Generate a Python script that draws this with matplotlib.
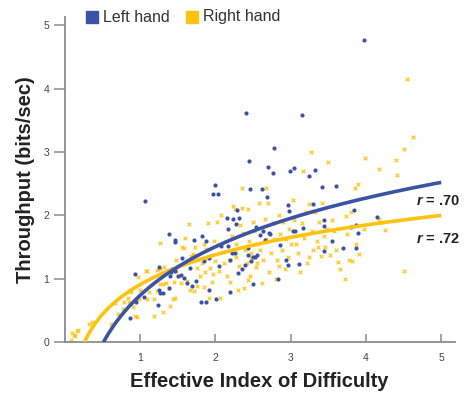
import numpy as np
import matplotlib
matplotlib.use('Agg')
from matplotlib import pyplot as plt

plt.rcParams['font.family'] = ['Liberation Sans', 'DejaVu Sans']
plt.rcParams['mathtext.fontset'] = 'custom'
plt.rcParams['mathtext.it'] = 'Liberation Sans:italic:bold'

BLUE = '#3a53a4'
YELLOW = '#fec20f'

# left hand (blue dots)
left_x = [3.98, 2.41, 3.15, 2.78, 2.45, 2.70, 2.76, 2.99, 3.05, 3.25, 3.33, 3.42, 3.60, 1.99, 1.97,
          2.03, 2.46, 2.62, 2.69, 1.07, 4.15, 3.84, 3.44, 3.80, 3.87, 3.90, 3.55, 3.70, 3.45, 3.87,
          2.96, 2.98, 3.30, 3.03, 3.06, 3.17, 2.86, 2.94, 2.97, 3.11, 2.83, 2.66, 2.60, 2.54, 2.63,
          2.43, 2.44, 2.50, 2.55, 2.48, 2.39, 2.36, 2.50, 2.30, 2.15, 2.17, 2.24, 2.28, 2.31, 2.29,
          2.17, 2.22, 2.26, 2.19, 2.08, 2.05, 2.20, 2.01, 1.88, 1.81, 1.92, 1.92, 1.85, 1.88, 1.82,
          1.72, 1.66, 1.74, 1.69, 1.63, 1.56, 1.55, 1.58, 1.50, 1.46, 1.47, 1.38, 1.41, 1.43, 1.46,
          1.40, 1.39, 1.30, 1.25, 1.24, 1.25, 0.94, 1.05, 0.95, 0.87, 3.45, 2.71, 2.73, 2.53, 1.27]
left_y = [4.77, 3.61, 3.59, 3.06, 2.86, 2.77, 2.67, 2.70, 2.74, 2.62, 2.71, 2.45, 2.47, 2.48, 2.33,
          2.34, 2.41, 2.41, 2.29, 2.22, 1.98, 2.08, 1.93, 1.82, 1.85, 1.72, 1.59, 1.49, 1.44, 1.48,
          2.16, 2.07, 2.18, 1.76, 1.75, 1.80, 1.53, 1.29, 1.21, 1.24, 1.00, 1.61, 1.69, 1.82, 1.76,
          1.49, 1.38, 1.35, 1.37, 1.28, 1.21, 1.15, 0.92, 1.09, 1.96, 1.79, 1.95, 1.87, 1.96, 2.09,
          1.52, 1.40, 1.40, 1.29, 1.51, 1.20, 0.79, 0.68, 0.64, 0.64, 0.83, 1.33, 1.28, 1.60, 1.68,
          1.61, 1.17, 0.97, 0.88, 0.93, 1.33, 1.06, 1.02, 1.05, 1.61, 1.58, 1.71, 1.11, 1.15, 1.12,
          1.05, 0.86, 0.77, 1.18, 0.59, 0.83, 1.08, 0.72, 0.64, 0.38, 1.84, 1.73, 1.70, 1.35, 0.78]

# right hand (yellow crosses)
right_x = [0.08, 0.10, 0.12, 0.14, 0.16, 0.18, 0.32, 0.36,
           0.61, 0.67, 0.71, 0.77, 0.79, 0.84, 0.86, 0.88, 0.91, 0.94, 0.96, 0.97, 0.99, 1.00,
           1.08, 1.09, 1.10, 1.12, 1.19, 1.22, 1.19, 1.30, 1.27, 1.27, 1.30, 1.35, 1.38, 1.40, 1.44,
           1.47, 1.22, 1.26, 1.32, 1.36, 1.42, 1.48, 1.45, 1.48,
           1.50, 1.55, 1.58, 1.56, 1.60, 1.62, 1.65, 1.66, 1.68, 1.70, 1.72, 1.73, 1.74, 1.76, 1.76,
           1.80, 1.83, 1.85, 1.87, 1.88, 1.90, 1.91, 1.93, 1.95, 1.97, 1.98, 1.92, 1.99, 1.85, 1.60,
           2.02, 2.05, 2.06, 2.10, 2.12, 2.15, 2.18, 2.20, 2.22, 2.24, 2.26, 2.28, 2.30, 2.32, 2.33,
           2.35, 2.37, 2.38, 2.40, 2.42, 2.44, 2.45, 2.46, 2.48, 2.50, 2.43, 2.27, 2.14, 2.08, 2.36,
           2.48,
           2.52, 2.54, 2.56, 2.58, 2.60, 2.62, 2.64, 2.66, 2.67, 2.68, 2.70, 2.72, 2.74, 2.76, 2.78,
           2.80, 2.82, 2.84, 2.86, 2.88, 2.90, 2.92, 2.94, 2.96, 2.98, 2.85, 2.55, 2.78, 3.00,
           3.03, 3.05, 3.07, 3.10, 3.12, 3.15, 3.16, 3.18, 3.20, 3.22, 3.24, 3.27, 3.28, 3.30, 3.33,
           3.36, 3.38, 3.40, 3.42, 3.44, 3.46, 3.48, 3.50, 3.35, 3.25,
           3.52, 3.55, 3.58, 3.60, 3.63, 3.65, 3.72, 3.74, 3.75, 3.78, 3.81, 3.83, 3.85, 3.87, 3.89,
           3.91, 3.97, 3.99, 3.80,
           4.18, 4.17, 4.40, 4.41, 4.50, 4.55, 4.62, 4.51, 4.25]
right_y = [0.04, 0.15, 0.11, 0.09, 0.17, 0.19, 0.29, 0.32,
           0.28, 0.62, 0.45, 0.52, 0.63, 0.70, 0.63, 0.79, 0.55, 0.41, 0.40, 1.03, 0.68, 0.83,
           1.12, 1.12, 0.68, 0.79, 0.68, 0.81, 0.42, 0.48, 1.56, 0.92, 0.91, 0.94, 0.86, 0.57, 0.68,
           0.70, 1.14, 1.16, 1.18, 1.12, 1.15, 1.13, 0.95, 1.30,
           1.04, 0.93, 1.49, 1.50, 1.25, 0.96, 1.87, 0.82, 1.36, 1.39, 0.80, 1.50, 1.38, 0.88, 1.17,
           1.05, 1.25, 1.55, 1.10, 1.47, 1.88, 1.33, 1.17, 0.95, 1.08, 1.60, 0.70, 1.28, 0.87, 1.65,
           1.90, 1.12, 0.70, 1.42, 1.25, 1.05, 1.30, 0.95, 1.68, 2.15, 2.10, 1.55, 0.82, 1.20, 1.85,
           2.12, 1.72, 0.85, 1.45, 1.25, 2.10, 1.60, 1.05, 1.35, 1.90, 0.98, 1.35, 1.60, 2.00, 2.43,
           1.40,
           1.75, 1.18, 1.55, 2.20, 1.45, 0.93, 1.30, 1.95, 2.43, 1.62, 2.20, 1.10, 1.40, 1.88, 1.62,
           1.00, 1.30, 2.00, 1.70, 1.45, 1.90, 1.15, 1.62, 1.35, 1.78, 1.20, 1.25, 1.88, 1.55,
           2.25, 1.92, 1.55, 1.40, 1.10, 1.88, 2.70, 1.65, 2.05, 1.25, 2.18, 3.00, 1.75, 1.45, 2.05,
           1.50, 1.90, 1.36, 2.20, 1.68, 1.50, 1.78, 2.85, 1.60, 1.35,
           1.38, 1.92, 1.76, 1.45, 1.26, 1.15, 1.00, 1.99, 1.70, 1.30, 1.28, 1.84, 2.43, 1.55, 2.50,
           1.39, 1.78, 2.91, 2.05,
           1.94, 2.73, 2.88, 2.64, 3.05, 4.16, 3.24, 1.13, 1.77]

# log fits: y = a + b*ln(x)
left_fit = [0.736, 1.109]
right_fit = [0.907, 0.679]
r_labels = ['$r$ = .70', '$r$ = .72']
r_pos_y = [2.23, 1.62]

fig = plt.figure(figsize=(4.65, 3.96), dpi=100)
ax = fig.add_axes([0.139, 0.136, 0.839, 0.821])

ax.scatter(right_x, right_y, marker='x', s=7, color=YELLOW, linewidths=0.9, alpha=0.9, zorder=2)
ax.scatter(left_x, left_y, marker='o', s=9, color=BLUE, linewidths=0, zorder=3)

for (a, b), c in [(right_fit, YELLOW), (left_fit, BLUE)]:
    x0 = np.exp(-a / b)
    xs = np.linspace(x0, 5, 200)
    ax.plot(xs, a + b * np.log(xs), color=c, lw=2.6, zorder=4, solid_capstyle='butt')

for lab, yy in zip(r_labels, r_pos_y):
    ax.text(4.67, yy, lab, fontsize=10.5, fontweight='bold', color='#222222',
            va='center', ha='left', clip_on=False)

ax.set_xlim(0, 5.18)
ax.set_ylim(0, 5.13)
ax.set_xticks([1, 2, 3, 4, 5])
ax.set_yticks([0, 1, 2, 3, 4, 5])
for s in ['top', 'right']:
    ax.spines[s].set_visible(False)
for s in ['left', 'bottom']:
    ax.spines[s].set_color('#8c8c8c')
    ax.spines[s].set_linewidth(1.3)
ax.tick_params(axis='y', direction='out', length=8, width=1.1, color='#8c8c8c',
               labelsize=7.5, labelcolor='#444444', pad=3)
ax.tick_params(axis='x', direction='in', length=6, width=1.1, color='#8c8c8c',
               labelsize=7.5, labelcolor='#444444', pad=8)

ax.set_xlabel('Effective Index of Difficulty', fontsize=14.5, fontweight='bold',
              color='#222222', labelpad=6)
ax.set_ylabel('Throughput (bits/sec)', fontsize=14.5, fontweight='bold',
              color='#222222', labelpad=6)

# legend
fig.patches.append(plt.Rectangle((86 / 465, 1 - 23 / 396), 12 / 465, 12 / 396,
                                 transform=fig.transFigure, color=BLUE))
fig.text(103 / 465, 1 - 17 / 396, 'Left hand', fontsize=11.5, color='#333333', va='center')
fig.patches.append(plt.Rectangle((186 / 465, 1 - 23 / 396), 12 / 465, 12 / 396,
                                 transform=fig.transFigure, color=YELLOW))
fig.text(203 / 465, 1 - 17 / 396, 'Right hand', fontsize=11.5, color='#333333', va='center')

fig.savefig('out.png', dpi=100)
